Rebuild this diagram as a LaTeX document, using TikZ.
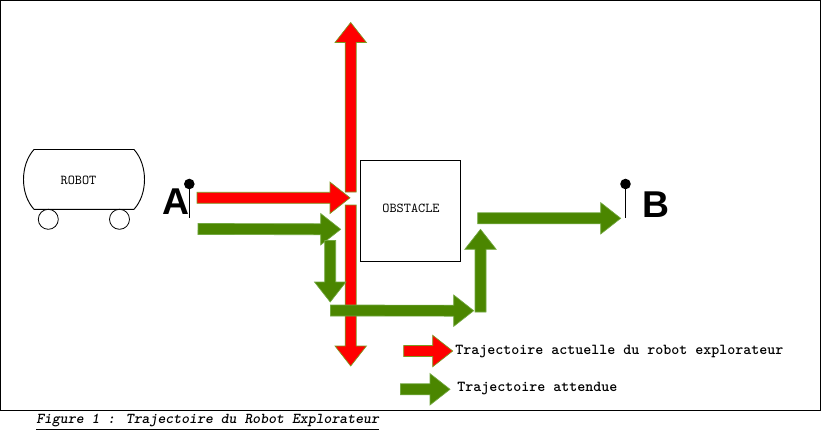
\documentclass[tikz,border=0pt]{standalone}
\usepackage{fontspec}
\setmainfont{Liberation Sans}
\setsansfont{Liberation Sans}
\usetikzlibrary{calc}
\definecolor{arrowgreen}{HTML}{4B8600}
\definecolor{greenedge}{HTML}{72A840}
\definecolor{arrowedge}{HTML}{7A9A20}
\tikzset{
  redarrow/.style={fill=red,draw=arrowedge,line width=0.5pt},
  greenarrow/.style={fill=arrowgreen,draw=greenedge,line width=0.5pt},
  outlined/.style={draw=black,line width=0.75pt,fill=none},
  letter/.style={font=\fontsize{28}{30}\selectfont\sffamily\bfseries,inner sep=0pt},
  pinline/.style={draw=black,line width=0.8pt},
  pindot/.style={fill=black},
  boxtext/.style={font=\fontsize{10.2}{12}\selectfont\ttfamily,inner sep=0pt},
  legendtext/.style={font=\fontsize{11.43}{13}\selectfont\ttfamily\bfseries,inner sep=0pt,anchor=west},
  captiontext/.style={font=\fontsize{11.3}{13}\selectfont\ttfamily\bfseries\itshape,inner sep=0pt,anchor=west},
}
% block arrow from named coordinate #2 to named coordinate #3
\newcommand{\blockarrow}[3]{%
  \coordinate (hb) at ($(#3)!20*0.75pt!(#2)$);
  \draw[#1,line join=miter]
    ($(#2)!5.5*0.75pt!90:(#3)$) --
    ($(hb)!5.5*0.75pt!90:(#3)$) --
    ($(hb)!15.7*0.75pt!90:(#3)$) --
    (#3) --
    ($(hb)!15.7*0.75pt!-90:(#3)$) --
    ($(hb)!5.5*0.75pt!-90:(#3)$) --
    ($(#2)!5.5*0.75pt!-90:(#3)$) -- cycle;
}
\begin{document}
\begin{tikzpicture}[x=0.75pt,y=-0.75pt]
\useasboundingbox (0,0) rectangle (821,433);
\draw[outlined] (0.5,0.5) rectangle (820.3,410.4);

% robot
\draw[outlined,line width=0.7pt] (34,149.5) -- (134,149.5)
  .. controls (148,165) and (148,194) .. (134,209.3)
  -- (34,209.3)
  .. controls (20,194) and (20,165) .. (34,149.5) -- cycle;
\node[outlined,line width=0.6pt,circle,minimum size=15pt,inner sep=0pt] (wheelL) at (48.3,219.3) {};
\node[outlined,line width=0.6pt,circle,minimum size=15pt,inner sep=0pt] (wheelR) at (119.5,219.3) {};
\node[boxtext] (robot) at (78.5,180) {ROBOT};

% obstacle
\node[outlined,minimum width=75pt,minimum height=75.5pt,inner sep=0pt] (obstacle) at (410.7,210.8) {};
\node[boxtext] (obstacletext) at (411,208.5) {OBSTACLE};

% letters and pins
\node[letter] (A) at (176,202) {A};
\node[letter] (B) at (655.5,204.5) {B};
\fill[pindot] (189.3,184) circle[radius=5.3] coordinate (pinA);
\coordinate (pinAend) at (189.3,218);
\draw[pinline] (pinA) -- (pinAend);
\fill[pindot] (625.5,184) circle[radius=5.3] coordinate (pinB);
\coordinate (pinBend) at (625.5,218);
\draw[pinline] (pinB) -- (pinBend);

% coordinates
\coordinate (upS) at (350.7,192);   \coordinate (upE) at (350.7,22.5);
\coordinate (dnS) at (350.7,205);   \coordinate (dnE) at (350.7,366);
\coordinate (rS) at (197,197.8);    \coordinate (rE) at (350,197.8);
\coordinate (g1S) at (198,229);     \coordinate (g1E) at (340.7,229.3);
\coordinate (g2S) at (330.2,240.5); \coordinate (g2E) at (330.2,302);
\coordinate (g3S) at (330.5,310.5); \coordinate (g3E) at (473.7,310.7);
\coordinate (g4S) at (480.5,312);   \coordinate (g4E) at (480.5,229.3);
\coordinate (g5S) at (477.7,218.3); \coordinate (g5E) at (620.7,218.3);
\coordinate (lrS) at (403.7,351);   \coordinate (lrE) at (452.7,351);
\coordinate (lgS) at (400.5,389.3); \coordinate (lgE) at (450,389.3);

% arrows
\blockarrow{redarrow}{upS}{upE}
\blockarrow{redarrow}{dnS}{dnE}
\blockarrow{redarrow}{rS}{rE}
\blockarrow{greenarrow}{g1S}{g1E}
\blockarrow{greenarrow}{g2S}{g2E}
\blockarrow{greenarrow}{g3S}{g3E}
\blockarrow{greenarrow}{g4S}{g4E}
\blockarrow{greenarrow}{g5S}{g5E}
\blockarrow{redarrow}{lrS}{lrE}
\blockarrow{greenarrow}{lgS}{lgE}

% legend
\node[legendtext] (legend1) at (455,352) {Trajectoire actuelle du robot explorateur};
\node[legendtext] (legend2) at (457,389) {Trajectoire attendue};
\node[captiontext] (caption) at (36,422) {\underline{Figure 1 : Trajectoire du Robot Explorateur}};
\end{tikzpicture}
\end{document}
